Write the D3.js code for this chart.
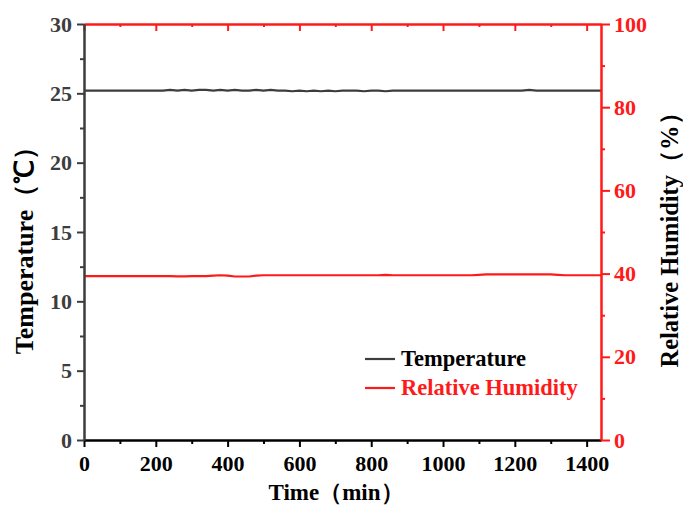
<!DOCTYPE html>
<html>
<head>
<meta charset="utf-8">
<script src="https://cdn.jsdelivr.net/npm/d3@7/dist/d3.min.js"></script>
<style>
  html, body { margin: 0; padding: 0; background: #fff; }
  svg { display: block; }
  text { font-family: "Liberation Serif", "Times New Roman", serif; font-weight: bold; }
</style>
</head>
<body>
<script>
// Logged time (min), one reading every 20 min over a full day
const timeMin = [
  0, 20, 40, 60, 80, 100, 120, 140, 160, 180, 200, 220, 240, 260, 280, 300, 320, 340, 360, 380,
  400, 420, 440, 460, 480, 500, 520, 540, 560, 580, 600, 620, 640, 660, 680, 700, 720, 740, 760, 780,
  800, 820, 840, 860, 880, 900, 920, 940, 960, 980, 1000, 1020, 1040, 1060, 1080, 1100, 1120, 1140, 1160, 1180,
  1200, 1220, 1240, 1260, 1280, 1300, 1320, 1340, 1360, 1380, 1400, 1420, 1440
];
// Temperature (°C)
const temperature = [
  25.2, 25.2, 25.2, 25.2, 25.2, 25.2, 25.2, 25.2, 25.2, 25.2, 25.2, 25.2, 25.25, 25.2, 25.25, 25.2, 25.25, 25.25, 25.2, 25.25,
  25.2, 25.25, 25.2, 25.2, 25.25, 25.2, 25.25, 25.2, 25.2, 25.15, 25.2, 25.15, 25.2, 25.15, 25.2, 25.15, 25.2, 25.2, 25.2, 25.15,
  25.2, 25.2, 25.15, 25.2, 25.2, 25.2, 25.2, 25.2, 25.2, 25.2, 25.2, 25.2, 25.2, 25.2, 25.2, 25.2, 25.2, 25.2, 25.2, 25.2,
  25.2, 25.2, 25.25, 25.2, 25.2, 25.2, 25.2, 25.2, 25.2, 25.2, 25.2, 25.2, 25.2
];
// Relative humidity (%)
const humidity = [
  39.4, 39.4, 39.4, 39.4, 39.4, 39.4, 39.4, 39.4, 39.4, 39.4, 39.4, 39.4, 39.4, 39.35, 39.35, 39.4, 39.4, 39.4, 39.5, 39.6,
  39.5, 39.3, 39.3, 39.3, 39.5, 39.6, 39.6, 39.6, 39.6, 39.6, 39.6, 39.6, 39.6, 39.6, 39.6, 39.6, 39.6, 39.6, 39.6, 39.6,
  39.6, 39.6, 39.7, 39.6, 39.6, 39.6, 39.6, 39.6, 39.6, 39.6, 39.6, 39.6, 39.6, 39.6, 39.6, 39.7, 39.8, 39.8, 39.8, 39.8,
  39.8, 39.8, 39.8, 39.8, 39.8, 39.8, 39.7, 39.6, 39.6, 39.6, 39.6, 39.6, 39.6
];

const xTicks = [0, 200, 400, 600, 800, 1000, 1200, 1400];
const xMinor = [100, 300, 500, 700, 900, 1100, 1300];
const tTicks = [0, 5, 10, 15, 20, 25, 30];
const tMinor = [2.5, 7.5, 12.5, 17.5, 22.5, 27.5];
const hTicks = [0, 20, 40, 60, 80, 100];
const hMinor = [10, 30, 50, 70, 90];

const W = 683, H = 505;
const m = { left: 84, right: 601, top: 24, bottom: 440 };
const RED = "#ff1a1a";
const GREY = "#3d3d3d";
const TICK_FONT = 22;

const svg = d3.select("body").append("svg").attr("width", W).attr("height", H);

const x = d3.scaleLinear().domain([0, 1440]).range([m.left, m.right]);
const yT = d3.scaleLinear().domain([0, 30]).range([m.bottom, m.top]);
const yH = d3.scaleLinear().domain([0, 100]).range([m.bottom, m.top]);
const fmt = d3.format("d");

function styleAxis(g, color) {
  g.selectAll("path.domain").attr("stroke", color).attr("stroke-width", 2);
  g.selectAll(".tick line").attr("stroke", color).attr("stroke-width", 2);
  g.selectAll(".tick text").attr("fill", color).style("font-size", TICK_FONT + "px")
    .style("font-family", "'Liberation Serif', serif").style("font-weight", "bold");
}

// Data lines
const lineT = d3.line().x((d, i) => x(timeMin[i])).y(d => yT(d));
const lineH = d3.line().x((d, i) => x(timeMin[i])).y(d => yH(d));

svg.append("path").datum(humidity).attr("d", lineH)
  .attr("fill", "none").attr("stroke", RED).attr("stroke-width", 2.2);
svg.append("path").datum(temperature).attr("d", lineT)
  .attr("fill", "none").attr("stroke", GREY).attr("stroke-width", 2.2);

// Bottom axis (black, ticks outward)
const gxMinor = svg.append("g").attr("transform", `translate(0,${m.bottom})`)
  .call(d3.axisBottom(x).tickValues(xMinor).tickSize(4).tickSizeOuter(0).tickFormat(""));
styleAxis(gxMinor, "#000");
const gx = svg.append("g").attr("transform", `translate(0,${m.bottom})`)
  .call(d3.axisBottom(x).tickValues(xTicks).tickFormat(fmt).tickSize(7).tickSizeOuter(0).tickPadding(8));
styleAxis(gx, "#000");

// Top axis (red, ticks inward)
const gtMinor = svg.append("g").attr("transform", `translate(0,${m.top})`)
  .call(d3.axisBottom(x).tickValues(xMinor).tickSize(3).tickSizeOuter(0).tickFormat(""));
styleAxis(gtMinor, RED);
const gt = svg.append("g").attr("transform", `translate(0,${m.top})`)
  .call(d3.axisBottom(x).tickValues(xTicks).tickSize(7).tickSizeOuter(0).tickFormat(""));
styleAxis(gt, RED);

// Left axis (temperature)
const gyMinor = svg.append("g").attr("transform", `translate(${m.left},0)`)
  .call(d3.axisLeft(yT).tickValues(tMinor).tickSize(4).tickSizeOuter(0).tickFormat(""));
styleAxis(gyMinor, GREY);
const gy = svg.append("g").attr("transform", `translate(${m.left},0)`)
  .call(d3.axisLeft(yT).tickValues(tTicks).tickFormat(fmt).tickSize(7).tickSizeOuter(0).tickPadding(5));
styleAxis(gy, GREY);

// Right axis (humidity)
const ghMinor = svg.append("g").attr("transform", `translate(${m.right},0)`)
  .call(d3.axisRight(yH).tickValues(hMinor).tickSize(4).tickSizeOuter(0).tickFormat(""));
styleAxis(ghMinor, RED);
const gh = svg.append("g").attr("transform", `translate(${m.right},0)`)
  .call(d3.axisRight(yH).tickValues(hTicks).tickFormat(fmt).tickSize(9).tickSizeOuter(0).tickPadding(4));
styleAxis(gh, RED);

// Axis titles (both side titles read bottom-to-top)
svg.append("text").attr("x", 336).attr("y", 500).attr("text-anchor", "middle")
  .style("font-size", "23px").attr("fill", "#000").text("Time（min）");
svg.append("text").attr("transform", "translate(33,244) rotate(-90)").attr("text-anchor", "middle")
  .style("font-size", "26px").attr("fill", "#000").text("Temperature（℃）");
svg.append("text").attr("transform", "translate(678,234) rotate(-90)").attr("text-anchor", "middle")
  .style("font-size", "24.5px").attr("fill", "#000").text("Relative Humidity（%）");

// Legend
const legend = [
  { label: "Temperature", color: GREY, text: "#000", y: 359 },
  { label: "Relative Humidity", color: RED, text: RED, y: 388 }
];
const lg = svg.append("g");
lg.selectAll("line").data(legend).join("line")
  .attr("x1", 365).attr("x2", 395).attr("y1", d => d.y).attr("y2", d => d.y)
  .attr("stroke", d => d.color).attr("stroke-width", 2.2);
lg.selectAll("text").data(legend).join("text")
  .attr("x", 401).attr("y", d => d.y + 7)
  .style("font-size", "22.5px").attr("fill", d => d.text).text(d => d.label);
</script>
</body>
</html>
